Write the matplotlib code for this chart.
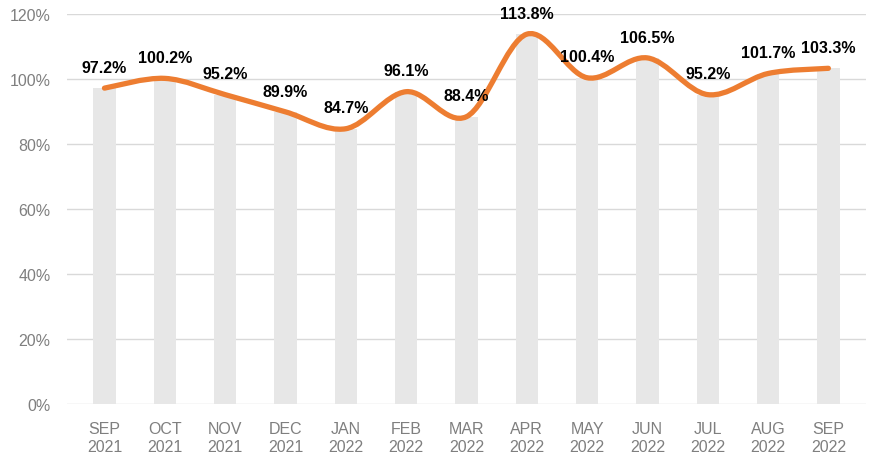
import numpy as np
from matplotlib import pyplot as plt
from matplotlib.path import Path
from matplotlib.patches import PathPatch
from matplotlib.ticker import FuncFormatter

months = ["SEP\n2021", "OCT\n2021", "NOV\n2021", "DEC\n2021", "JAN\n2022", "FEB\n2022",
          "MAR\n2022", "APR\n2022", "MAY\n2022", "JUN\n2022", "JUL\n2022", "AUG\n2022", "SEP\n2022"]
values = [97.2, 100.2, 95.2, 89.9, 84.7, 96.1, 88.4, 113.8, 100.4, 106.5, 95.2, 101.7, 103.3]
y_ticks = [0, 20, 40, 60, 80, 100, 120]

plt.rcParams['font.family'] = ['Liberation Sans', 'DejaVu Sans']

fig = plt.figure(figsize=(8.71, 4.56), dpi=100)
ax = fig.add_axes([0.077, 0.112, 0.917, 0.855])

x = np.arange(len(values))
ax.bar(x, values, width=0.37, color="#e7e7e7", zorder=2)

# smooth line through the points, bezier segments (catmull-rom style)
pts = list(zip(x, values))
verts = [pts[0]]
codes = [Path.MOVETO]
t = 1 / 6
for i in range(len(pts) - 1):
    p0 = pts[i - 1] if i > 0 else pts[i]
    p1 = pts[i]
    p2 = pts[i + 1]
    p3 = pts[i + 2] if i + 2 < len(pts) else pts[i + 1]
    c1 = (p1[0] + (p2[0] - p0[0]) * t, p1[1] + (p2[1] - p0[1]) * t)
    c2 = (p2[0] - (p3[0] - p1[0]) * t, p2[1] - (p3[1] - p1[1]) * t)
    verts += [c1, c2, p2]
    codes += [Path.CURVE4] * 3
ax.add_patch(PathPatch(Path(verts, codes), facecolor="none", edgecolor="#ed7d31",
                       lw=3.8, capstyle="round", joinstyle="round", zorder=3))

for xi, v in zip(x, values):
    ax.annotate(f"{v:.1f}%", (xi, v), xytext=(0, 15), textcoords="offset points",
                ha="center", va="center", fontsize=11.5, fontweight="bold", color="black", zorder=4)

ax.set_xlim(-0.62, len(values) - 0.38)
ax.set_ylim(0, 120)
ax.set_yticks(y_ticks)
ax.yaxis.set_major_formatter(FuncFormatter(lambda v, p: f"{v:.0f}%"))
ax.set_xticks(x)
ax.set_xticklabels(months, linespacing=1.3)
ax.yaxis.grid(True, color="#d9d9d9", lw=1)
ax.set_axisbelow(True)
for s in ax.spines.values():
    s.set_visible(False)
ax.tick_params(axis="both", length=0, colors="#7f7f7f", labelsize=11.5)
ax.tick_params(axis="x", pad=12)
ax.tick_params(axis="y", pad=12)

fig.savefig("out.png", dpi=100)
